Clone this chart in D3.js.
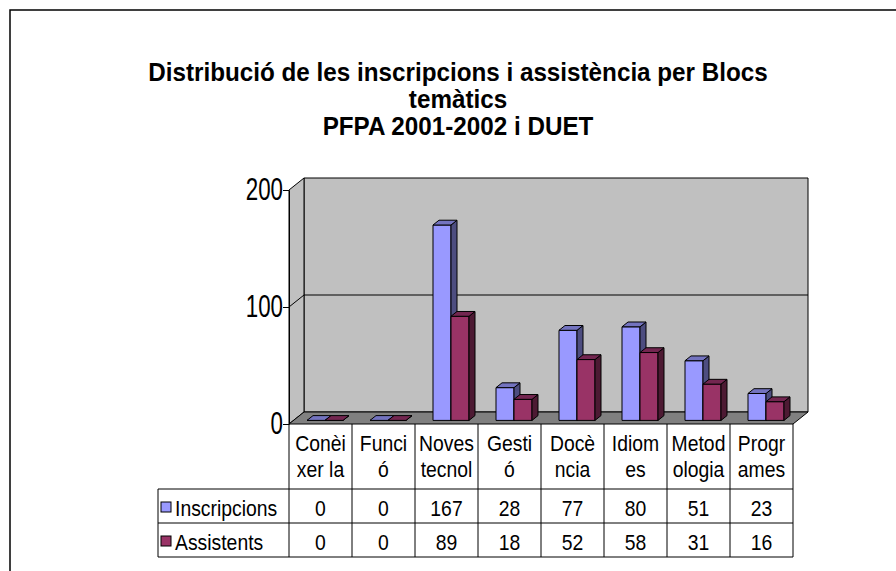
<!DOCTYPE html>
<html>
<head>
<meta charset="utf-8">
<script src="https://cdn.jsdelivr.net/npm/d3@7"></script>
<style>
    body { margin: 0; background: #fff; }
    svg { display: block; }
    text { font-family: "Liberation Sans", Arial, sans-serif; fill: #000; }
</style>
</head>
<body>
<div id="chart"></div>
<script>
// Dades del gràfic
const titleLines = ["Distribució de les inscripcions i assistència per Blocs", "temàtics", "PFPA 2001-2002 i DUET"];
const categories = ["Conèixer la", "Funció", "Noves tecnol", "Gestió", "Docència", "Idiomes", "Metodologia", "Programes"];
const categoryLines = [["Conèi", "xer la"], ["Funci", "ó"], ["Noves", "tecnol"], ["Gesti", "ó"], ["Docè", "ncia"], ["Idiom", "es"], ["Metod", "ologia"], ["Progr", "ames"]];
const seriesNames = ["Inscripcions", "Assistents"];
const inscripcions = [0, 0, 167, 28, 77, 80, 51, 23];
const assistents = [0, 0, 89, 18, 52, 58, 31, 16];
const yTicks = [0, 100, 200];

const seriesValues = [inscripcions, assistents];
const colors = [
    { front: "#9999ff", side: "#4d4d80", top: "#7373bf" },
    { front: "#993366", side: "#4d1a33", top: "#732650" }
];

const W = 896, H = 571;
const plot = { left: 289, right: 793, top: 190, bottom: 424 };
const depth = { dx: 15, dy: -12 };
const barDepth = [0.3, 0.7];
const table = { left: 158, header: 489, row1: 523, row2: 557 };
const narrow = 0.88;

const svg = d3.select("#chart").append("svg")
    .attr("width", W)
    .attr("height", H);

// Marc exterior
svg.append("rect")
    .attr("x", 10).attr("y", 10)
    .attr("width", W + 20).attr("height", H + 20)
    .attr("fill", "#fff")
    .attr("stroke", "#000")
    .attr("stroke-width", 1.5);

// Títol
svg.append("g").selectAll("text")
    .data(titleLines)
    .enter().append("text")
    .attr("transform", (d, i) => `translate(458,${81 + i * 27}) scale(0.97,1)`)
    .attr("text-anchor", "middle")
    .style("font-size", "25px")
    .style("font-weight", "bold")
    .text(d => d);

// Escales
const x0 = d3.scaleBand().domain(categories).range([plot.left, plot.right]);
const x1 = d3.scaleBand().domain(seriesNames).range([0, x0.bandwidth()]).paddingOuter(0.75);
const y = d3.scaleLinear().domain([0, 200]).range([plot.bottom, plot.top]);

const pt = (px, py, f) => [px + depth.dx * f, py + depth.dy * f];
const poly = pts => "M" + pts.map(p => p.join(",")).join("L") + "Z";

// Parets i terra
const walls = svg.append("g").attr("stroke", "#000").attr("stroke-width", 1);
walls.append("path")
    .attr("d", poly([pt(plot.left, y(200), 1), pt(plot.right, y(200), 1), pt(plot.right, y(0), 1), pt(plot.left, y(0), 1)]))
    .attr("fill", "#c0c0c0");
walls.append("path")
    .attr("d", poly([pt(plot.left, y(200), 0), pt(plot.left, y(200), 1), pt(plot.left, y(0), 1), pt(plot.left, y(0), 0)]))
    .attr("fill", "#c0c0c0");
walls.append("path")
    .attr("d", poly([pt(plot.left, y(0), 0), pt(plot.left, y(0), 1), pt(plot.right, y(0), 1), pt(plot.right, y(0), 0)]))
    .attr("fill", "#808080");

// Línies de graella
walls.selectAll(".grid")
    .data(yTicks.filter(t => t > 0 && t < 200))
    .enter().append("path")
    .attr("class", "grid")
    .attr("fill", "none")
    .attr("d", t => "M" + pt(plot.left, y(t), 0).join(",") + "L" + pt(plot.left, y(t), 1).join(",") + "L" + pt(plot.right, y(t), 1).join(","));

// Barres 3D
const bars = [];
categories.forEach((c, ci) => {
    seriesNames.forEach((s, si) => {
        bars.push({ c, s, si, v: seriesValues[si][ci] });
    });
});

const barG = svg.append("g")
    .attr("stroke", "#000")
    .attr("stroke-width", 1)
    .attr("stroke-linejoin", "round");

const bar = barG.selectAll(".bar")
    .data(bars)
    .enter().append("g")
    .attr("class", "bar");

const [f0, f1] = barDepth;
bar.append("path")
    .attr("fill", d => colors[d.si].front)
    .attr("d", d => {
        const xa = x0(d.c) + x1(d.s), xb = xa + x1.bandwidth();
        return poly([pt(xa, y(d.v), f0), pt(xb, y(d.v), f0), pt(xb, y(0), f0), pt(xa, y(0), f0)]);
    });
bar.append("path")
    .attr("fill", d => colors[d.si].side)
    .attr("d", d => {
        const xb = x0(d.c) + x1(d.s) + x1.bandwidth();
        return poly([pt(xb, y(d.v), f0), pt(xb, y(d.v), f1), pt(xb, y(0), f1), pt(xb, y(0), f0)]);
    });
bar.append("path")
    .attr("fill", d => colors[d.si].top)
    .attr("d", d => {
        const xa = x0(d.c) + x1(d.s), xb = xa + x1.bandwidth();
        return poly([pt(xa, y(d.v), f0), pt(xa, y(d.v), f1), pt(xb, y(d.v), f1), pt(xb, y(d.v), f0)]);
    });

// Eix vertical
const axis = svg.append("g")
    .attr("transform", `translate(${plot.left},0)`)
    .call(d3.axisLeft(y).tickValues(yTicks).tickSize(6).tickSizeOuter(0).tickPadding(3));
axis.select(".domain").attr("stroke", "#000");
axis.selectAll("line").attr("stroke", "#000");
axis.selectAll("text")
    .attr("font-family", null)
    .style("font-size", "31px")
    .attr("transform", "scale(0.72,1)")
    .attr("x", -6 / 0.72);

// Taula de dades
const tbl = svg.append("g");
const lines = tbl.append("g").attr("stroke", "#000").attr("stroke-width", 1);
[table.header, table.row1, table.row2].forEach(yy => {
    lines.append("line").attr("x1", table.left).attr("x2", plot.right).attr("y1", yy).attr("y2", yy);
});
lines.append("line").attr("x1", table.left).attr("x2", table.left).attr("y1", table.header).attr("y2", table.row2);
lines.selectAll(".col")
    .data(categories.concat(["end"]))
    .enter().append("line")
    .attr("x1", (d, i) => i < categories.length ? x0(d) : plot.right)
    .attr("x2", (d, i) => i < categories.length ? x0(d) : plot.right)
    .attr("y1", plot.bottom)
    .attr("y2", table.row2);

const cellText = tbl.append("g").style("font-size", "22px").attr("text-anchor", "middle");
categories.forEach((c, ci) => {
    const cx = x0(c) + x0.bandwidth() / 2;
    categoryLines[ci].forEach((ln, li) => {
        cellText.append("text")
            .attr("transform", `translate(${cx},${451 + li * 26}) scale(${narrow},1)`)
            .text(ln);
    });
    seriesValues.forEach((vals, si) => {
        cellText.append("text")
            .attr("transform", `translate(${cx},${table.header + 27 + si * 34}) scale(${narrow},1)`)
            .text(vals[ci]);
    });
});

// Llegenda dins la taula
seriesNames.forEach((s, si) => {
    const cy = table.header + 18 + si * 34;
    tbl.append("rect")
        .attr("x", 161).attr("y", cy - 5)
        .attr("width", 10).attr("height", 10)
        .attr("fill", colors[si].front)
        .attr("stroke", "#000");
    tbl.append("text")
        .attr("transform", `translate(175,${cy + 9}) scale(${narrow},1)`)
        .style("font-size", "22px")
        .text(s);
});
</script>
</body>
</html>
